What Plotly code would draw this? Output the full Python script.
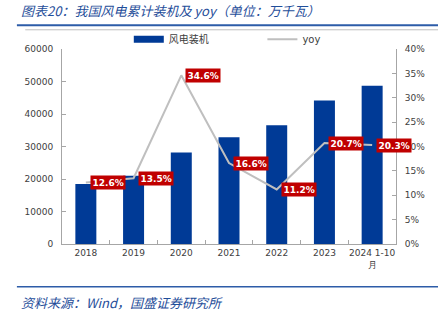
import plotly.graph_objects as go

categories = ["2018", "2019", "2020", "2021", "2022", "2023", "2024 1-10<br>月"]
capacity = [18426, 21005, 28153, 32848, 36544, 44134, 48678]
yoy = [0.126, 0.135, 0.346, 0.166, 0.112, 0.207, 0.203]
left_ticks = [0, 10000, 20000, 30000, 40000, 50000, 60000]
right_ticks = [0, 0.05, 0.10, 0.15, 0.20, 0.25, 0.30, 0.35, 0.40]

BLUE = "#003A96"
GRAY = "#BFBFBF"
RED = "#C00000"
AXIS = "#A6A6A6"
TXT = "#404040"
TITLE_BLUE = "#1F4E9A"

fig = go.Figure()
fig.add_trace(go.Bar(x=categories, y=capacity, marker=dict(color=BLUE, line=dict(width=0)),
                     width=0.44, showlegend=False, name="风电装机"))
fig.add_trace(go.Scatter(x=categories, y=yoy, yaxis="y2", mode="lines",
                         line=dict(color=GRAY, width=2), showlegend=False, name="yoy"))
# legend entries
fig.add_trace(go.Scatter(x=[categories[0]], y=[None], mode="lines", line=dict(color=BLUE, width=7),
                         name="风电装机", legend="legend"))
fig.add_trace(go.Scatter(x=[categories[0]], y=[None], mode="lines", line=dict(color=GRAY, width=2),
                         name="yoy", legend="legend2"))

# category index positions (annotations on category axes use the index)
for i, v in enumerate(yoy):
    fig.add_annotation(x=i, y=v, xref="x", yref="y2", text=f"<b>{v*100:.1f}%</b>", showarrow=False,
                       xanchor="left", yanchor="middle", xshift=4,
                       bgcolor=RED, borderpad=1.5,
                       font=dict(family="DejaVu Sans", size=9, color="white"))

fig.add_annotation(xref="paper", yref="paper", x=-0.13, y=1.2, text="<i>图表20：我国风电累计装机及 yoy（单位：万千瓦）</i>",
                   showarrow=False, xanchor="left", yanchor="middle",
                   font=dict(family="Noto Sans CJK SC", size=13, color=TITLE_BLUE))
fig.add_annotation(xref="paper", yref="paper", x=-0.13, y=-0.3, text="<i>资料来源：Wind，国盛证券研究所</i>",
                   showarrow=False, xanchor="left", yanchor="middle",
                   font=dict(family="Noto Sans CJK SC", size=13, color=TITLE_BLUE))

fig.update_layout(
    width=438, height=324, autosize=False,
    margin=dict(l=62, r=42, t=49, b=80),
    paper_bgcolor="white", plot_bgcolor="white",
    font=dict(family="DejaVu Sans", size=9, color=TXT),
    xaxis=dict(type="category", categoryorder="array", categoryarray=categories,
               range=[-0.5, len(categories) - 0.5], tickangle=0,
               showline=True, linecolor=AXIS, linewidth=1,
               ticks="inside", tickson="boundaries", ticklen=4, tickcolor=AXIS,
               showgrid=False, tickfont=dict(family="DejaVu Sans", size=9, color=TXT)),
    yaxis=dict(range=[0, 60000], tickvals=left_ticks, tickformat="d", showline=True, linecolor=AXIS,
               ticks="inside", ticklen=4, tickcolor=AXIS, showgrid=False, zeroline=False,
               ticklabelstandoff=6, tickfont=dict(family="DejaVu Sans", size=9, color=TXT)),
    yaxis2=dict(range=[0, 0.40], tickvals=right_ticks, tickformat=".0%", overlaying="y",
                side="right", showline=True, linecolor=AXIS, ticks="inside", ticklen=4,
                tickcolor=AXIS, showgrid=False, zeroline=False, ticklabelstandoff=6,
                tickfont=dict(family="DejaVu Sans", size=9, color=TXT)),
    legend=dict(x=0.2, y=1.05, xanchor="left", yanchor="middle", orientation="h",
                bgcolor="rgba(0,0,0,0)", itemwidth=30,
                font=dict(family="Noto Sans CJK SC", size=10, color=TXT)),
    legend2=dict(x=0.6, y=1.05, xanchor="left", yanchor="middle", orientation="h",
                 bgcolor="rgba(0,0,0,0)", itemwidth=30,
                 font=dict(family="DejaVu Sans", size=10, color=TXT)),
    shapes=[
        dict(type="line", xref="paper", yref="paper", x0=-0.135, x1=1.13, y0=1.1215, y1=1.1215,
             line=dict(color="#2D5CA8", width=2)),
        dict(type="line", xref="paper", yref="paper", x0=-0.11, x1=1.13, y0=1.0985, y1=1.0985,
             line=dict(color="#BFBFBF", width=1)),
        dict(type="line", xref="paper", yref="paper", x0=-0.135, x1=1.13, y0=-0.2193, y1=-0.2193,
             line=dict(color="#2D5CA8", width=1.5)),
    ],
)

fig.write_html("out.html")
